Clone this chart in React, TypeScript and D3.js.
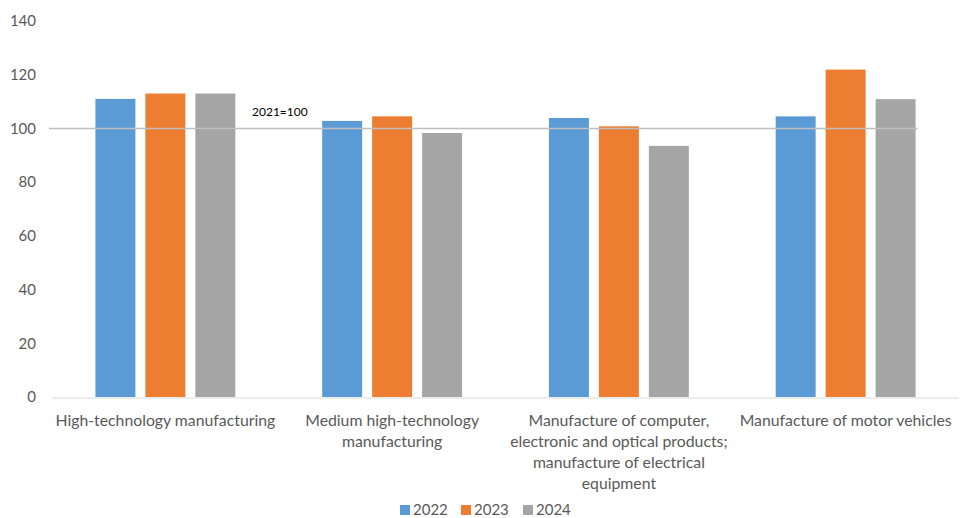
import React, { useEffect, useRef } from "react";
import * as d3 from "d3";

// Production index by category, 2021 = 100
const categories = [
  "High-technology manufacturing",
  "Medium high-technology manufacturing",
  "Manufacture of computer, electronic and optical products; manufacture of electrical equipment",
  "Manufacture of motor vehicles",
];
// Wrapped label lines for each category
const categoryLines = [
  ["High-technology manufacturing"],
  ["Medium high-technology", "manufacturing"],
  ["Manufacture of computer,", "electronic and optical products;", "manufacture of electrical", "equipment"],
  ["Manufacture of motor vehicles"],
];
const years = ["2022", "2023", "2024"];
const values2022 = [111.0, 102.8, 103.9, 104.5];
const values2023 = [113.0, 104.5, 100.8, 121.9];
const values2024 = [113.0, 98.3, 93.5, 110.9];
const yTicks = [0, 20, 40, 60, 80, 100, 120, 140];
const baseValue = 100;
const baseLabel = "2021=100";

const colors = ["#5B9BD5", "#ED7D31", "#A5A5A5"];
const FONT = "Lato, 'Open Sans', sans-serif";

export default function App() {
  const ref = useRef<SVGSVGElement | null>(null);

  useEffect(() => {
    const svg = d3.select(ref.current);
    svg.selectAll("*").remove();

    const W = 962;
    const H = 518;
    const left = 52;
    const right = 959;
    const top = 21;
    const bottom = 397;

    const series = [values2022, values2023, values2024];

    const x = d3.scaleBand<string>().domain(categories).range([left, right]).paddingInner(0.383).paddingOuter(0.1915);
    const xs = d3.scaleBand<string>().domain(years).range([0, x.bandwidth()]).paddingInner(0.2);
    const y = d3.scaleLinear().domain([0, 140]).range([bottom, top]);

    // y tick labels
    svg
      .append("g")
      .selectAll("text")
      .data(yTicks)
      .join("text")
      .attr("x", 36)
      .attr("y", (d) => y(d))
      .attr("dy", "0.35em")
      .attr("text-anchor", "end")
      .attr("font-family", FONT)
      .attr("font-size", 15)
      .attr("fill", "#595959")
      .text((d) => d);

    // bars
    const groups = svg
      .append("g")
      .selectAll("g")
      .data(categories)
      .join("g")
      .attr("transform", (c) => `translate(${x(c)},0)`);

    groups
      .selectAll("rect")
      .data((c, i) => years.map((yr, k) => ({ yr, k, v: series[k][i] })))
      .join("rect")
      .attr("x", (d) => xs(d.yr)!)
      .attr("width", xs.bandwidth())
      .attr("y", (d) => y(d.v))
      .attr("height", (d) => y(0) - y(d.v))
      .attr("fill", (d) => colors[d.k]);

    // category axis line
    svg
      .append("line")
      .attr("x1", left)
      .attr("x2", right)
      .attr("y1", y(0) + 1)
      .attr("y2", y(0) + 1)
      .attr("stroke", "#D9D9D9")
      .attr("stroke-width", 1);

    // reference line at the base year level
    const lastCat = categories[categories.length - 1];
    const refEnd = x(lastCat)! + xs(years[years.length - 1])! + xs.bandwidth() + 2;
    svg
      .append("line")
      .attr("x1", 49)
      .attr("x2", refEnd)
      .attr("y1", y(baseValue))
      .attr("y2", y(baseValue))
      .attr("stroke", "#BFBFBF")
      .attr("stroke-width", 1.5);

    svg
      .append("text")
      .attr("x", 252)
      .attr("y", y(baseValue) - 17)
      .attr("dy", "0.35em")
      .attr("font-family", FONT)
      .attr("font-size", 12)
      .attr("fill", "#000")
      .text(baseLabel);

    // category labels
    const labels = svg.append("g");
    categories.forEach((c, i) => {
      const cx = x(c)! + x.bandwidth() / 2;
      const t = labels
        .append("text")
        .attr("text-anchor", "middle")
        .attr("font-family", FONT)
        .attr("font-size", 15.8)
        .attr("fill", "#595959");
      categoryLines[i].forEach((line, j) => {
        t.append("tspan")
          .attr("x", cx)
          .attr("y", 420 + j * 21)
          .attr("dy", "0.35em")
          .text(line);
      });
    });

    // legend
    const legend = svg.append("g");
    const legendX = [400, 461, 523];
    years.forEach((yr, k) => {
      legend
        .append("rect")
        .attr("x", legendX[k])
        .attr("y", 505)
        .attr("width", 10)
        .attr("height", 10)
        .attr("fill", colors[k]);
      legend
        .append("text")
        .attr("x", legendX[k] + 13)
        .attr("y", 510)
        .attr("dy", "0.35em")
        .attr("font-family", FONT)
        .attr("font-size", 15)
        .attr("fill", "#595959")
        .text(yr);
    });

    svg.attr("width", W).attr("height", H);
  }, []);

  return (
    <svg
      ref={ref}
      width={962}
      height={518}
      style={{ position: "absolute", left: 0, top: 0, background: "#fff" }}
    />
  );
}
